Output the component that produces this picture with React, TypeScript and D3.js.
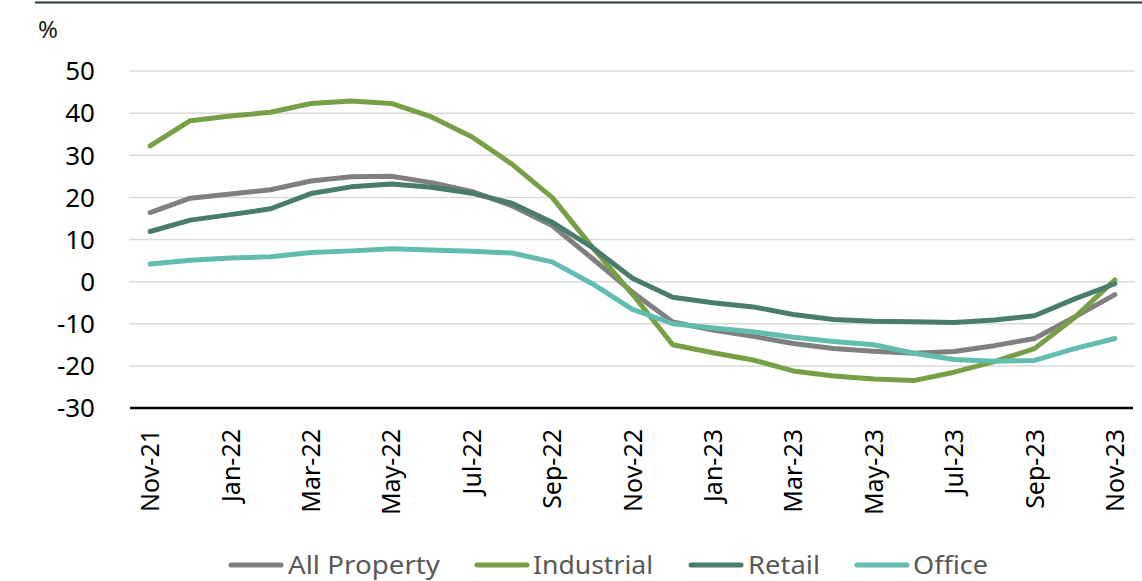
import * as d3 from "d3";
import { useEffect, useRef } from "react";

const months = [
  "Nov-21", "Dec-21", "Jan-22", "Feb-22", "Mar-22", "Apr-22", "May-22", "Jun-22", "Jul-22",
  "Aug-22", "Sep-22", "Oct-22", "Nov-22", "Dec-22", "Jan-23", "Feb-23", "Mar-23", "Apr-23",
  "May-23", "Jun-23", "Jul-23", "Aug-23", "Sep-23", "Oct-23", "Nov-23",
];

const allProperty = [16.4, 19.8, 20.8, 21.8, 23.9, 24.9, 25.0, 23.5, 21.4, 18.0, 13.3, 5.5, -2.5, -9.6, -11.5, -13.0, -14.7, -15.9, -16.5, -17.0, -16.6, -15.2, -13.5, -8.4, -3.1];
const industrial = [32.2, 38.2, 39.3, 40.2, 42.3, 42.9, 42.3, 39.1, 34.4, 27.9, 20.0, 8.2, -3.0, -15.0, -16.9, -18.6, -21.2, -22.4, -23.1, -23.5, -21.5, -19.0, -15.9, -8.5, 0.4];
const retail = [11.9, 14.6, 15.9, 17.3, 20.9, 22.5, 23.2, 22.4, 21.0, 18.6, 14.1, 8.1, 0.8, -3.7, -5.0, -6.0, -7.8, -9.0, -9.4, -9.5, -9.7, -9.1, -8.1, -4.1, -0.5];
const office = [4.2, 5.1, 5.6, 5.9, 6.9, 7.3, 7.8, 7.5, 7.2, 6.8, 4.7, -0.5, -6.6, -10.0, -11.0, -11.9, -13.2, -14.2, -15.0, -17.0, -18.5, -18.9, -18.7, -15.9, -13.5];

const yTicks = [-30, -20, -10, 0, 10, 20, 30, 40, 50];

const series = [
  { name: "All Property", values: allProperty, color: "#808080" },
  { name: "Industrial", values: industrial, color: "#77a046" },
  { name: "Retail", values: retail, color: "#4a7c6e" },
  { name: "Office", values: office, color: "#62bcaf" },
];

const font = "'Noto Sans', sans-serif";

export default function App() {
  const svgRef = useRef(null);
  const width = 1142;
  const height = 581;

  useEffect(() => {
    const svg = d3.select(svgRef.current);
    svg.selectAll("*").remove();

    const x = d3.scaleBand().domain(months).range([130, 1135]).padding(0);
    const cx = (m: string) => (x(m) || 0) + x.bandwidth() / 2;
    const y = d3.scaleLinear().domain([-30, 50]).range([408, 71]);

    // top rule
    svg.append("line")
      .attr("x1", 35).attr("x2", width).attr("y1", 2.5).attr("y2", 2.5)
      .attr("stroke", "#2b3639").attr("stroke-width", 2);

    svg.append("text")
      .attr("x", 38).attr("y", 38)
      .attr("font-family", font).attr("font-size", 24).attr("fill", "#1a1a1a")
      .text("%");

    // gridlines
    svg.append("g")
      .selectAll("line")
      .data(yTicks.filter((t) => t !== -30))
      .enter()
      .append("line")
      .attr("x1", 129).attr("x2", 1135)
      .attr("y1", (d) => y(d)).attr("y2", (d) => y(d))
      .attr("stroke", "#d9d9d9").attr("stroke-width", 1.5);

    // y labels
    svg.append("g")
      .selectAll("text")
      .data(yTicks)
      .enter()
      .append("text")
      .attr("x", 95)
      .attr("y", (d) => y(d))
      .attr("dy", "0.36em")
      .attr("text-anchor", "end")
      .attr("font-family", font).attr("font-size", 26).attr("fill", "#000")
      .text((d) => String(d));

    // baseline
    svg.append("line")
      .attr("x1", 130).attr("x2", 1133)
      .attr("y1", y(-30)).attr("y2", y(-30))
      .attr("stroke", "#000").attr("stroke-width", 2.5);

    // x labels
    svg.append("g")
      .selectAll("text")
      .data(months.filter((_, i) => i % 2 === 0))
      .enter()
      .append("text")
      .attr("transform", (d) => `translate(${cx(d) + 9},429) rotate(-90)`)
      .attr("text-anchor", "end")
      .attr("font-family", font).attr("font-size", 25).attr("fill", "#000")
      .text((d) => d);

    const line = d3.line<number>()
      .x((_, i) => cx(months[i]))
      .y((d) => y(d));

    svg.append("g")
      .selectAll("path")
      .data(series)
      .enter()
      .append("path")
      .attr("d", (s) => line(s.values))
      .attr("fill", "none")
      .attr("stroke", (s) => s.color)
      .attr("stroke-width", 5)
      .attr("stroke-linejoin", "round")
      .attr("stroke-linecap", "round");

    // legend
    const legendPos = [
      { lx: 229, tx: 288, tw: 152 },
      { lx: 475, tx: 533, tw: 120 },
      { lx: 689, tx: 748, tw: 72 },
      { lx: 855, tx: 913, tw: 75 },
    ];
    const lg = svg.append("g");
    series.forEach((s, i) => {
      const p = legendPos[i];
      lg.append("line")
        .attr("x1", p.lx + 2).attr("x2", p.lx + 52)
        .attr("y1", 565).attr("y2", 565)
        .attr("stroke", s.color).attr("stroke-width", 5).attr("stroke-linecap", "round");
      lg.append("text")
        .attr("x", p.tx).attr("y", 574)
        .attr("font-family", font).attr("font-size", 26).attr("fill", "#595959")
        .attr("textLength", p.tw).attr("lengthAdjust", "spacingAndGlyphs")
        .text(s.name);
    });
  }, []);

  return (
    <svg
      ref={svgRef}
      width={width}
      height={height}
      style={{ position: "absolute", left: 0, top: 0, background: "#fff" }}
    ></svg>
  );
}
